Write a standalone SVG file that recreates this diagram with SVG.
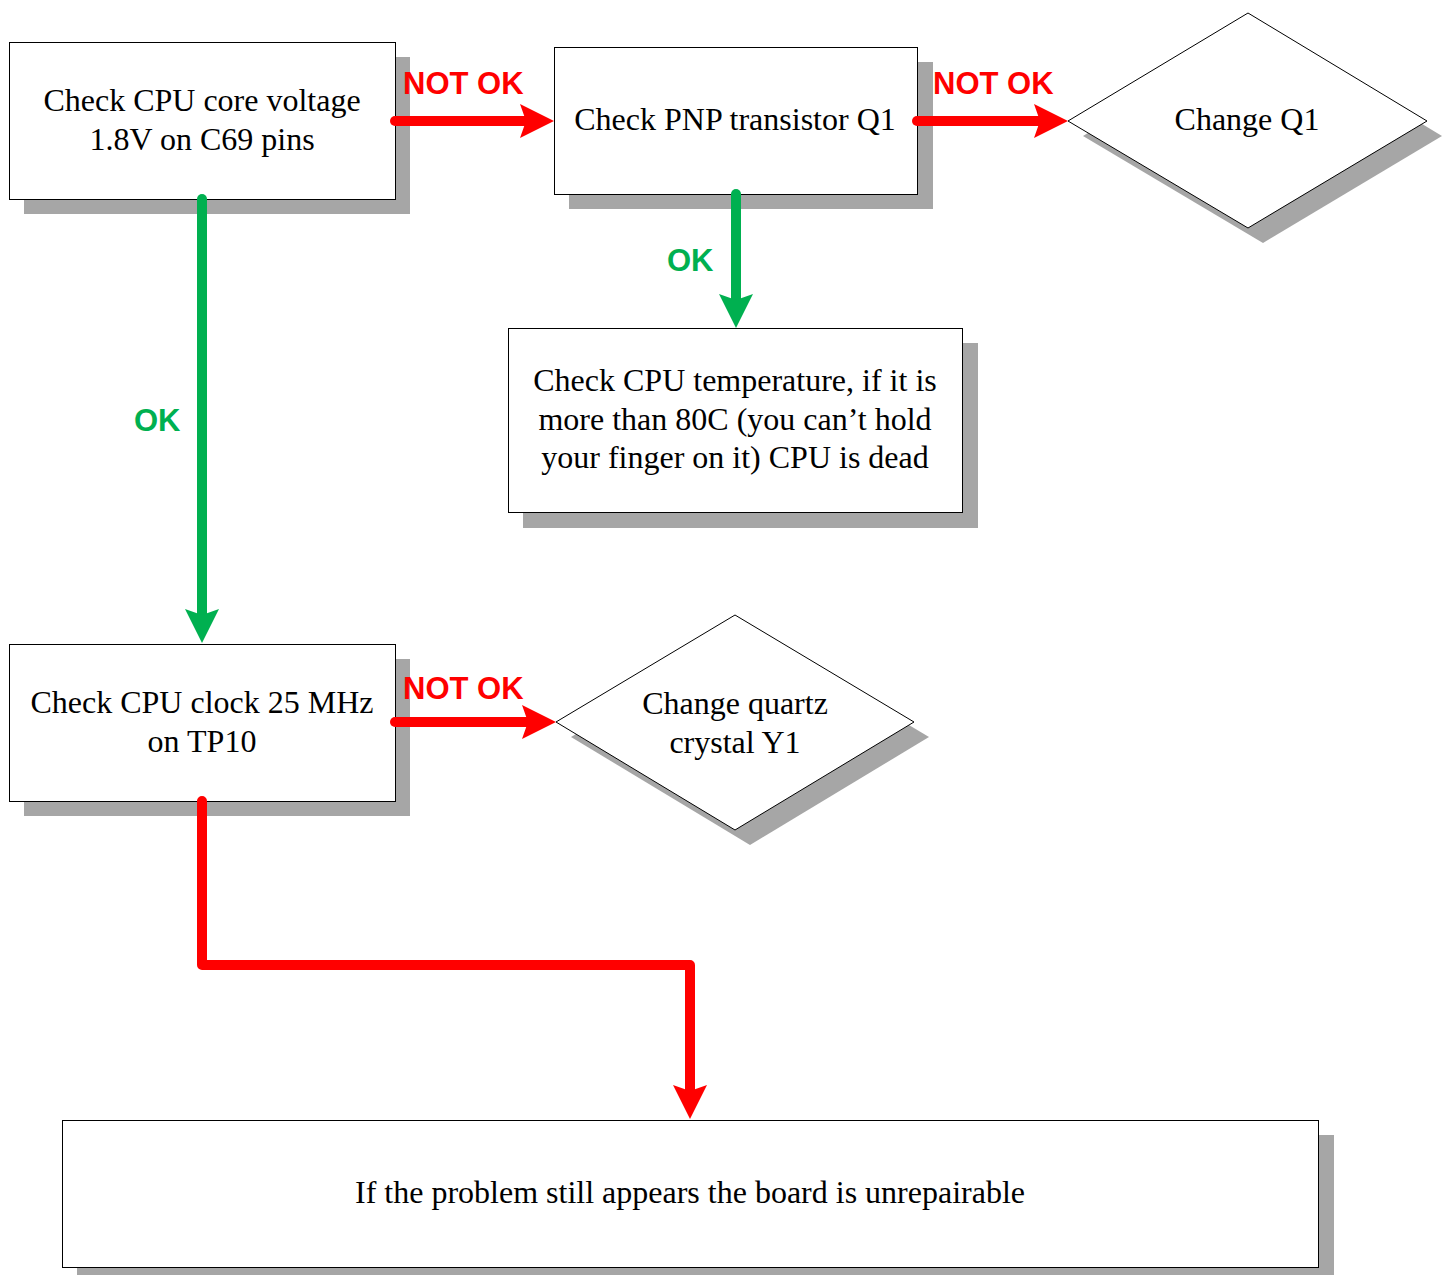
<svg xmlns="http://www.w3.org/2000/svg" width="1449" height="1275" viewBox="0 0 1449 1275">
<style>
.box{fill:#fff;stroke:#000;stroke-width:1}
.sh{fill:#a6a6a6}
.t{font-family:"Liberation Serif","Times New Roman",serif;font-size:32px;fill:#000;text-anchor:middle}
.lbl{font-family:"Liberation Sans",Arial,sans-serif;font-size:31px;font-weight:bold}
.red{fill:#ff0000}
.grn{fill:#00b050}
.lr{fill:none;stroke:#ff0000;stroke-width:10;stroke-linecap:round;stroke-linejoin:round}
.lg{fill:none;stroke:#00b050;stroke-width:10;stroke-linecap:round;stroke-linejoin:round}
</style>
<defs>
<path id="ah" d="M0,0 L-34,-17 L-28,0 L-34,17 Z"/>
</defs>
<rect width="1449" height="1275" fill="#fff"/>

<g id="n1">
<rect class="sh" x="24" y="57" width="386" height="157"/>
<rect class="box" x="9.5" y="42.5" width="386" height="157"/>
<text class="t" x="202" y="111">Check CPU core voltage</text>
<text class="t" x="202" y="150">1.8V on C69 pins</text>
</g>

<g id="n2">
<rect class="sh" x="569" y="62" width="364" height="147"/>
<rect class="box" x="554.5" y="47.5" width="363" height="147"/>
<text class="t" x="735" y="130">Check PNP transistor Q1</text>
</g>

<g id="n3">
<polygon class="sh" points="1083,136 1263,28 1442,136 1263,243"/>
<polygon class="box" points="1068,121 1248,13 1427,121 1248,228"/>
<text class="t" x="1247" y="130">Change Q1</text>
</g>

<g id="n4">
<rect class="sh" x="523" y="343" width="455" height="185"/>
<rect class="box" x="508.5" y="328.5" width="454" height="184"/>
<text class="t" x="735" y="391">Check CPU temperature, if it is</text>
<text class="t" x="735" y="430">more than 80C (you can’t hold</text>
<text class="t" x="735" y="468">your finger on it) CPU is dead</text>
</g>

<g id="n5">
<rect class="sh" x="24" y="659" width="386" height="157"/>
<rect class="box" x="9.5" y="644.5" width="386" height="157"/>
<text class="t" x="202" y="713">Check CPU clock 25 MHz</text>
<text class="t" x="202" y="752">on TP10</text>
</g>

<g id="n6">
<polygon class="sh" points="571,737 750,630 929,737 750,845"/>
<polygon class="box" points="556,722 735,615 914,722 735,830"/>
<text class="t" x="735" y="714">Change quartz</text>
<text class="t" x="735" y="753">crystal Y1</text>
</g>

<g id="n7">
<rect class="sh" x="77" y="1135" width="1257" height="150"/>
<rect class="box" x="62.5" y="1120.5" width="1256" height="147"/>
<text class="t" x="690" y="1203">If the problem still appears the board is unrepairable</text>
</g>

<g id="connectors">
<path class="lr" d="M395,121 H530"/>
<use href="#ah" class="red" transform="translate(554,121)"/>
<path class="lr" d="M917,121 H1044"/>
<use href="#ah" class="red" transform="translate(1068,121)"/>
<path class="lg" d="M202,199 V620"/>
<use href="#ah" class="grn" transform="translate(202,643) rotate(90)"/>
<path class="lg" d="M736,194 V305"/>
<use href="#ah" class="grn" transform="translate(736,328) rotate(90)"/>
<path class="lr" d="M395,722 H532"/>
<use href="#ah" class="red" transform="translate(556,722)"/>
<path class="lr" d="M202,801 V965 H690 V1095"/>
<use href="#ah" class="red" transform="translate(690,1119) rotate(90)"/>
<text class="lbl red" x="403" y="94">NOT OK</text>
<text class="lbl red" x="933" y="94">NOT OK</text>
<text class="lbl red" x="403" y="699">NOT OK</text>
<text class="lbl grn" x="134" y="431">OK</text>
<text class="lbl grn" x="667" y="271">OK</text>
</g>
</svg>
